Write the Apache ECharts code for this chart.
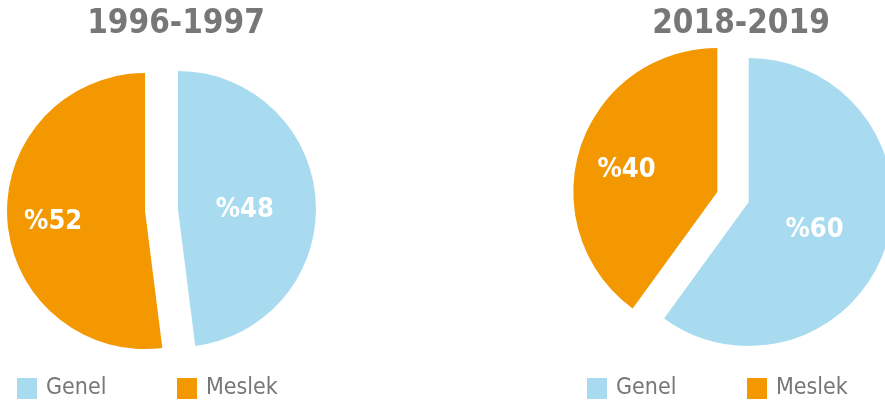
<!DOCTYPE html>
<html>
<head>
<meta charset="utf-8">
<script src="https://cdn.jsdelivr.net/npm/echarts@6/dist/echarts.min.js"></script>
<style>
  html, body { margin: 0; padding: 0; background: #fff; }
  #chart { width: 885px; height: 407px; }
</style>
</head>
<body>
<div id="chart"></div>
<script>
// data
var categories = ['Genel', 'Meslek'];
var years = ['1996-1997', '2018-2019'];
var values1996 = [48, 52];
var values2018 = [60, 40];

var colors = ['#a8dbf0', '#f39800'];
var fontNarrow = '"Liberation Sans Narrow", "DejaVu Sans Condensed", sans-serif';

function pieData(values) {
  return categories.map(function (name, i) {
    return {
      name: name,
      value: values[i],
      selected: true,
      itemStyle: { color: colors[i] }
    };
  });
}

// labelShift: small nudge [dx, dy] of each label from the default inside spot
function pieSeries(values, center, radius, labelShift) {
  return {
    type: 'pie',
    center: center,
    radius: radius,
    startAngle: 90,
    clockwise: true,
    selectedMode: 'multiple',
    selectedOffset: 16.5,
    avoidLabelOverlap: false,
    label: {
      show: true,
      position: 'inside',
      formatter: '%{c}',
      color: '#fff',
      fontFamily: fontNarrow,
      fontWeight: 'bold',
      fontSize: 27
    },
    labelLayout: function (p) {
      var s = labelShift[p.dataIndex];
      return { dx: s[0], dy: s[1] };
    },
    labelLine: { show: false },
    emphasis: { disabled: true },
    select: { itemStyle: { borderWidth: 0 } },
    data: pieData(values)
  };
}

function legendAt(name, left) {
  return {
    data: [name],
    left: left,
    top: 377,
    padding: 0,
    itemWidth: 20,
    itemHeight: 21,
    selectedMode: false,
    icon: 'rect',
    textStyle: { color: '#777', fontSize: 23, fontFamily: fontNarrow, padding: [0, 0, 0, 4] }
  };
}

function titleAt(text, x) {
  return {
    text: text,
    left: x,
    top: 8,
    padding: 0,
    textAlign: 'center',
    textStyle: { color: '#777', fontSize: 33, fontWeight: 'bold', fontFamily: fontNarrow }
  };
}

var chart = echarts.init(document.getElementById('chart'));
var option = {
  animation: false,
  title: [titleAt(years[0], 176), titleAt(years[1], 741)],
  legend: [
    legendAt('Genel', 17),
    legendAt('Meslek', 177),
    legendAt('Genel', 587),
    legendAt('Meslek', 747)
  ],
  series: [
    pieSeries(values1996, [161.5, 210], 138, [[-5, 6], [-20, 6]]),
    pieSeries(values2018, [733, 197], 144, [[-5.5, 5], [-19.5, 1.5]])
  ]
};
chart.setOption(option);
</script>
</body>
</html>
